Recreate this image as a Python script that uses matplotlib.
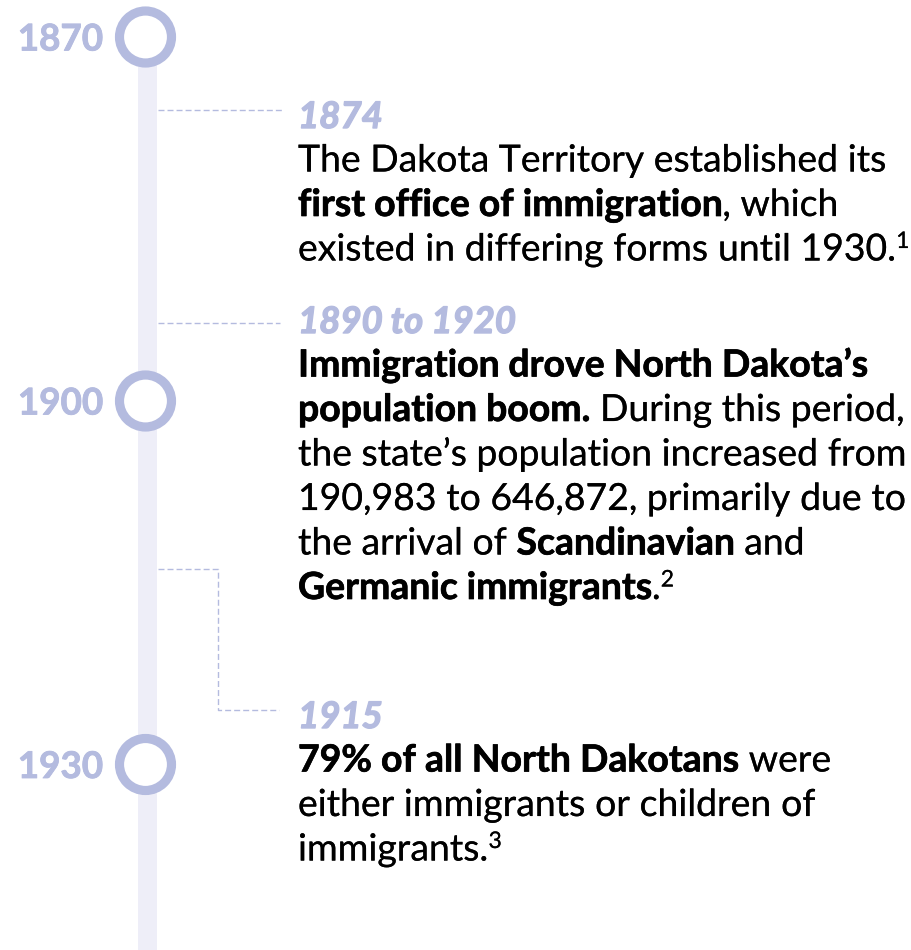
import matplotlib
matplotlib.use("Agg")
import matplotlib.pyplot as plt
from matplotlib.patches import Circle, Rectangle
import matplotlib.patheffects as pe

# ---------------- data ----------------
decade_years = ["1870", "1900", "1930"]
decade_y = [37, 401, 764.5]

event_years = ["1874", "1890 to 1920", "1915"]
event_year_y = [128, 333, 728]

# each event: list of lines, each line list of (text, style) ; style: n=normal, b=bold, s=superscript
event_lines = [
    [
        [("The Dakota Territory established its", "n")],
        [("first office of immigration", "b"), (", which", "n")],
        [("existed in differing forms until 1930.", "n"), ("1", "s")],
    ],
    [
        [("Immigration drove North Dakota\u2019s", "b")],
        [("population boom.", "b"), (" During this period,", "n")],
        [("the state\u2019s population increased from", "n")],
        [("190,983 to 646,872, primarily due to", "n")],
        [("the arrival of ", "n"), ("Scandinavian", "b"), (" and", "n")],
        [("Germanic immigrants", "b"), (".", "n"), ("2", "s")],
    ],
    [
        [("79% of all North Dakotans", "b"), (" were", "n")],
        [("either immigrants or children of", "n")],
        [("immigrants.", "n"), ("3", "s")],
    ],
]

# ---------------- style ----------------
LAV = "#b4bbdf"
BAR = "#eeeef8"
FONT = "Lato"
BODY = 26.9
YEAR = 26.3
DEC = 26.5
SUP = 16.5
LINE_H = 44.5
TX = 298

fig = plt.figure(figsize=(9.12, 9.5), dpi=100)
ax = fig.add_axes([0, 0, 1, 1])
ax.set_xlim(0, 912)
ax.set_ylim(950, 0)
ax.axis("off")
renderer = fig.canvas.get_renderer()

# vertical bar
ax.add_patch(Rectangle((138, decade_y[0]), 19.5, 950 - decade_y[0], facecolor=BAR,
                       edgecolor="none", zorder=1))

# decade circles and labels
for lab, cy in zip(decade_years, decade_y):
    ax.add_patch(Circle((145.5, cy), 26, facecolor="white", edgecolor=LAV,
                        linewidth=6.6, zorder=3))
    ax.text(103, cy + 13.5, lab, ha="right", va="baseline", fontsize=DEC,
            fontweight="bold", color=LAV, family=FONT, zorder=4,
            path_effects=[pe.withStroke(linewidth=0.6, foreground=LAV)])

# dashed connectors
dash = dict(color=LAV, linewidth=1.0, linestyle=(0, (4.3, 2.2)), zorder=2)
ax.plot([158, 283], [109.5, 109.5], **dash)
ax.plot([158, 280], [322.5, 322.5], **dash)
ax.plot([158, 218, 218, 279], [569, 569, 710, 710], **dash)


def width(s, **kw):
    t = ax.text(0, 0, s, **kw)
    w = t.get_window_extent(renderer).width
    t.remove()
    return w


def props(kind):
    if kind == "b":
        return dict(fontsize=BODY, fontweight="bold", family=FONT, color="black")
    if kind == "s":
        return dict(fontsize=SUP, fontweight="normal", family=FONT, color="black")
    return dict(fontsize=BODY, fontweight="normal", family=FONT, color="black")


def draw_run(x, y, text, kind):
    p = props(kind)
    if kind == "s":
        y = y - 12.5
    stroke = 0.5 if kind == "b" else 0.12
    sp = width("x x", **p) - width("xx", **p)
    parts = text.split(" ")
    for i, part in enumerate(parts):
        if i > 0:
            x += sp
        if part:
            t = ax.text(x, y, part, ha="left", va="baseline", zorder=4,
                        path_effects=[pe.withStroke(linewidth=stroke, foreground="black")],
                        **p)
            x += t.get_window_extent(renderer).width
    return x


for yr, yy, lines in zip(event_years, event_year_y, event_lines):
    ax.text(TX, yy, yr, ha="left", va="baseline", fontsize=YEAR, fontweight="bold",
            fontstyle="italic", family=FONT, color=LAV, zorder=4,
            path_effects=[pe.withStroke(linewidth=1.0, foreground=LAV)])
    by = yy + 43.5
    for line in lines:
        x = TX
        for text, kind in line:
            x = draw_run(x, by, text, kind)
        by += LINE_H

fig.savefig("out.png", dpi=100, facecolor="white")
